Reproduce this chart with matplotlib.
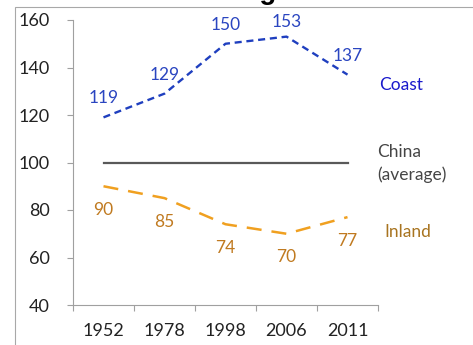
import matplotlib.pyplot as plt
from matplotlib.patches import Rectangle

years = ['1952', '1978', '1998', '2006', '2011']
coast = [119, 129, 150, 153, 137]
inland = [90, 85, 74, 70, 77]
china = [100, 100, 100, 100, 100]

plt.rcParams['font.family'] = ['Lato', 'DejaVu Sans']

fig = plt.figure(figsize=(4.73, 3.45), dpi=100)
ax = fig.add_axes([73 / 473, 1 - 305 / 345, 305 / 473, 285 / 345])

x = list(range(len(years)))

# lines
ax.plot(x, coast, color='#1f3fbf', lw=1.7, ls=(0, (3, 2)))
ax.plot(x, china, color='#595959', lw=1.6)
ax.plot(x, inland, color='#f0a020', lw=1.8, ls=(0, (6, 4)))

# data labels (above / below the points, kept inside the plot area)
for xi, v in zip(x, coast):
    ax.text(xi, min(v + 8, 159), str(v), ha='center', va='center',
            color='#2a45c0', fontsize=12.5)
for xi, v in zip(x, inland):
    ax.text(xi, v - 10, str(v), ha='center', va='center',
            color='#c07a20', fontsize=12.5)

# series names on the right
ax.text(4.52, 132.5, 'Coast', color='#1a1acc', fontsize=12.5,
        va='center', ha='left', clip_on=False)
ax.text(4.48, 99.5, 'China\n(average)', color='#454545', fontsize=12.5,
        va='center', ha='left', linespacing=1.45, clip_on=False)
ax.text(4.6, 70.7, 'Inland', color='#a87420', fontsize=12.5,
        va='center', ha='left', clip_on=False)

# axes styling
ax.set_xlim(-0.5, 4.5)
ax.set_ylim(40, 160)
ax.set_yticks(range(40, 161, 20))
ax.set_xticks(x)
ax.set_xticklabels(years)
ax.set_xticks([i - 0.5 for i in range(len(years) + 1)], minor=True)
ax.tick_params(axis='x', which='major', length=0, pad=13, labelsize=13,
               labelcolor='#222222')
ax.tick_params(axis='x', which='minor', length=4, width=0.8, color='#a0a0a0')
ax.tick_params(axis='y', length=4, width=0.8, color='#a0a0a0', pad=13,
               labelsize=13, labelcolor='#222222')
for s in ['top', 'right']:
    ax.spines[s].set_visible(False)
for s in ['left', 'bottom']:
    ax.spines[s].set_color('#a0a0a0')
    ax.spines[s].set_linewidth(0.8)

# frame of the original slide chart and the cut-off title
fig.patches.append(Rectangle((15 / 473, -0.1), 1.2, 1 - 7 / 345 + 0.1,
                             transform=fig.transFigure, fill=False,
                             edgecolor='#a8a8a8', lw=0.8))
fig.text(240 / 473, 1 + 1 / 345, 'average', ha='center', va='baseline',
         fontsize=20, fontweight='bold', color='black',
         family=['Liberation Sans', 'DejaVu Sans'])

fig.savefig('out.png', dpi=100)
